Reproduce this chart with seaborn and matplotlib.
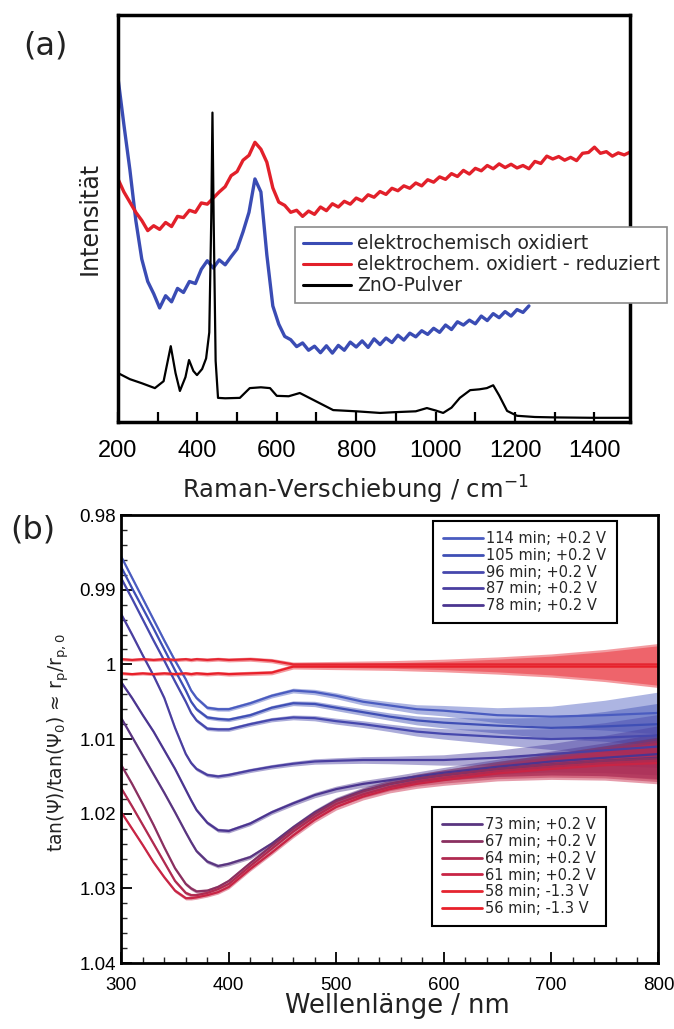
"""
Raman-Spektren (a) und Ellipsometrie-Verhaeltnis (b) -- Nachbau der Abbildung.
"""
import numpy as np
import matplotlib
matplotlib.use("Agg")
import matplotlib.pyplot as plt
from matplotlib.ticker import MultipleLocator, FixedLocator, FixedFormatter
import seaborn as sns


# ─── Daten (a): Raman ───────────────────────────────────────────────────────
ZNO_X = [200, 230, 260, 293, 315, 333, 345, 356, 370, 379,
         390, 399, 412, 422, 430, 435, 438, 441, 446, 452,
         470, 507, 532, 560, 583, 600, 630, 658, 680, 742,
         800, 860, 900, 950, 978, 1000, 1019, 1040, 1061, 1087,
         1110, 1129, 1145, 1160, 1180, 1205, 1250, 1300, 1400, 1490]
ZNO_I = [12.0, 10.5, 9.5, 8.3, 10.0, 18.6, 12.0, 7.6, 11.0, 15.2,
         12.5, 11.5, 13.0, 15.6, 22.0, 50.0, 76.0, 50.0, 15.0, 5.9,
         5.8, 5.9, 8.3, 8.5, 8.3, 6.4, 6.3, 7.1, 6.0, 2.9,
         2.6, 2.2, 2.4, 2.6, 3.4, 2.8, 2.2, 3.5, 5.9, 7.8,
         8.0, 8.3, 9.0, 6.5, 2.7, 1.5, 1.2, 1.1, 1.0, 1.0]

RAMAN_X = [200, 215, 230, 245, 260, 275, 290, 305, 320, 335,
           350, 365, 380, 395, 410, 425, 440, 455, 470, 485,
           500, 515, 530, 545, 560, 575, 590, 605, 620, 635,
           650, 665, 680, 695, 710, 725, 740, 755, 770, 785,
           800, 815, 830, 845, 860, 875, 890, 905, 920, 935,
           950, 965, 980, 995, 1010, 1025, 1040, 1055, 1070, 1085,
           1100, 1115, 1130, 1145, 1160, 1175, 1190, 1205, 1220, 1235,
           1250, 1265, 1280, 1295, 1310, 1325, 1340, 1355, 1370, 1385,
           1400, 1415, 1430, 1445, 1460, 1475, 1490]

# elektrochemisch oxidiert (endet bei ca. 1235 cm-1)
OX_I = [84.6, 73.0, 62.0, 49.5, 40.0, 34.5, 31.5, 28.0, 31.0, 29.5,
        32.8, 31.8, 34.5, 34.0, 37.5, 39.6, 37.8, 39.8, 38.6, 40.6,
        42.5, 46.7, 51.5, 59.7, 56.5, 41.0, 28.5, 24.0, 21.0, 20.2,
        18.5, 19.4, 17.6, 18.6, 17.0, 18.7, 16.9, 18.8, 17.6, 19.6,
        18.4, 19.9, 18.3, 20.4, 19.0, 20.6, 19.5, 21.3, 20.1, 21.8,
        20.9, 22.4, 21.5, 23.0, 22.0, 23.8, 22.7, 24.6, 23.8, 25.0,
        24.1, 26.0, 24.9, 26.6, 25.6, 27.1, 26.0, 27.6, 26.9, 28.5]

# elektrochem. oxidiert - reduziert
RED_I = [59.7, 56.5, 54.0, 51.5, 49.5, 47.0, 48.2, 47.3, 49.0, 48.0,
         50.5, 50.2, 52.0, 51.5, 53.8, 53.5, 55.0, 56.5, 57.8, 60.5,
         61.5, 64.3, 65.5, 68.7, 67.0, 63.8, 57.5, 54.0, 53.2, 51.5,
         52.0, 50.5, 51.8, 51.0, 52.8, 51.9, 53.6, 52.8, 54.2, 53.5,
         55.0, 54.3, 55.8, 55.2, 56.6, 55.9, 57.4, 56.8, 58.0, 57.4,
         58.7, 58.0, 59.5, 58.9, 60.2, 59.6, 61.0, 60.3, 61.8, 60.9,
         62.3, 61.7, 63.0, 62.2, 63.4, 62.5, 63.3, 62.4, 63.0, 62.2,
         64.0, 63.5, 65.3, 64.6, 65.2, 64.3, 65.0, 64.2, 66.0, 66.2,
         67.5, 66.0, 66.4, 65.3, 66.1, 65.6, 66.3]

RAMAN_LABELS = ["elektrochemisch oxidiert",
                "elektrochem. oxidiert - reduziert",
                "ZnO-Pulver"]

# ─── Daten (b): tan(Psi)/tan(Psi0) ──────────────────────────────────────────
WL = [300, 310, 320, 330, 340, 350, 360, 365, 370, 380,
      390, 400, 420, 440, 460, 480, 500, 525, 550, 575,
      600, 650, 700, 750, 800]

R_114 = [0.9856, 0.9884, 0.9912, 0.9940, 0.9968, 0.9995, 1.0020, 1.0035, 1.0045, 1.0058,
         1.0060, 1.0060, 1.0052, 1.0042, 1.0035, 1.0037, 1.0042, 1.0050, 1.0055, 1.0060,
         1.0062, 1.0068, 1.0070, 1.0068, 1.0065]
R_105 = [0.9870, 0.9898, 0.9925, 0.9952, 0.9980, 1.0008, 1.0035, 1.0050, 1.0060, 1.0071,
         1.0073, 1.0074, 1.0068, 1.0058, 1.0052, 1.0053, 1.0058, 1.0064, 1.0070, 1.0075,
         1.0078, 1.0082, 1.0085, 1.0083, 1.0080]
R_96 = [0.9885, 0.9912, 0.9940, 0.9968, 0.9995, 1.0023, 1.0050, 1.0065, 1.0075, 1.0086,
        1.0087, 1.0087, 1.0080, 1.0074, 1.0071, 1.0072, 1.0076, 1.0080, 1.0085, 1.0090,
        1.0093, 1.0097, 1.0100, 1.0098, 1.0095]
R_87 = [0.9933, 0.9960, 0.9988, 1.0015, 1.0045, 1.0085, 1.0120, 1.0132, 1.0140, 1.0148,
        1.0150, 1.0148, 1.0142, 1.0137, 1.0133, 1.0130, 1.0129, 1.0128, 1.0128, 1.0128,
        1.0128, 1.0125, 1.0120, 1.0115, 1.0110]
R_78 = [1.0024, 1.0045, 1.0068, 1.0090, 1.0115, 1.0140, 1.0168, 1.0182, 1.0195, 1.0212,
        1.0222, 1.0223, 1.0213, 1.0198, 1.0186, 1.0175, 1.0167, 1.0160, 1.0155, 1.0150,
        1.0145, 1.0137, 1.0130, 1.0125, 1.0120]
R_73 = [1.0072, 1.0097, 1.0122, 1.0147, 1.0172, 1.0198, 1.0225, 1.0238, 1.0250, 1.0264,
        1.0270, 1.0267, 1.0258, 1.0240, 1.0218, 1.0198, 1.0182, 1.0169, 1.0160, 1.0153,
        1.0148, 1.0140, 1.0134, 1.0129, 1.0125]
R_67 = [1.0135, 1.0160, 1.0187, 1.0215, 1.0245, 1.0273, 1.0294, 1.0300, 1.0304, 1.0303,
        1.0298, 1.0290, 1.0266, 1.0243, 1.0220, 1.0200, 1.0183, 1.0170, 1.0160, 1.0153,
        1.0148, 1.0140, 1.0134, 1.0129, 1.0126]
R_64 = [1.0166, 1.0190, 1.0215, 1.0240, 1.0265, 1.0290, 1.0306, 1.0309, 1.0309, 1.0306,
        1.0301, 1.0294, 1.0270, 1.0247, 1.0224, 1.0204, 1.0187, 1.0174, 1.0164, 1.0157,
        1.0152, 1.0143, 1.0137, 1.0132, 1.0129]
R_61 = [1.0198, 1.0220, 1.0242, 1.0265, 1.0285, 1.0303, 1.0313, 1.0313, 1.0312, 1.0309,
        1.0305, 1.0298, 1.0274, 1.0252, 1.0229, 1.0208, 1.0191, 1.0177, 1.0167, 1.0160,
        1.0155, 1.0146, 1.0140, 1.0135, 1.0132]
R_58 = [0.9993, 0.9994, 0.9993, 0.9994, 0.9993, 0.9994, 0.9993, 0.9994, 0.9993, 0.9994,
        0.9993, 0.9994, 0.9993, 0.9995, 1.0000, 1.0000, 1.0000, 1.0000, 1.0000, 1.0000,
        1.0000, 1.0000, 1.0000, 1.0000, 1.0000]
R_56 = [1.0012, 1.0013, 1.0012, 1.0013, 1.0012, 1.0013, 1.0012, 1.0013, 1.0012, 1.0013,
        1.0012, 1.0013, 1.0012, 1.0011, 1.0003, 1.0003, 1.0003, 1.0003, 1.0003, 1.0003,
        1.0003, 1.0003, 1.0003, 1.0003, 1.0003]

# Rauschband (halbe Breite), aus dem Bild geschaetzt
NOISE_WL = [300, 450, 500, 550, 600, 650, 700, 750, 800]
NOISE_HW = [0.0002, 0.0003, 0.0004, 0.0005, 0.0007, 0.0010, 0.0014, 0.0020, 0.0028]

ELLI_LABELS = ["114 min; +0.2 V", "105 min; +0.2 V", "96 min; +0.2 V",
               "87 min; +0.2 V", "78 min; +0.2 V", "73 min; +0.2 V",
               "67 min; +0.2 V", "64 min; +0.2 V", "61 min; +0.2 V",
               "58 min; -1.3 V", "56 min; -1.3 V"]
ELLI_SERIES = [R_114, R_105, R_96, R_87, R_78, R_73, R_67, R_64, R_61, R_58, R_56]

# ─── Stil ────────────────────────────────────────────────────────────────────
BLUE_A = "#3a4cb4"
RED_A = "#e2202a"
ELLI_COLORS = ["#4a5cc0", "#3f4fb5", "#4648ad", "#4a3fa0", "#4b3590", "#5a3580",
               "#8a3060", "#b02a50", "#c82545", "#e52530", "#e8202a"]
TICK_FONT = ["Liberation Sans", "DejaVu Sans"]

sns.set_style("ticks")
plt.rcParams['font.family'] = ['DejaVu Sans']
plt.rcParams['mathtext.fontset'] = 'dejavusans'

fig = plt.figure(figsize=(6.74, 10.29), dpi=100, facecolor="white")
ax_a = fig.add_axes([0.175, 0.590, 0.760, 0.3955])
ax_b = fig.add_axes([0.180, 0.064, 0.797, 0.4355])

# ─── Panel (a) ───────────────────────────────────────────────────────────────
sns.lineplot(x=RAMAN_X[:len(OX_I)], y=OX_I, ax=ax_a, color=BLUE_A, lw=2.4,
             label=RAMAN_LABELS[0])
sns.lineplot(x=RAMAN_X, y=RED_I, ax=ax_a, color=RED_A, lw=2.4, label=RAMAN_LABELS[1])
sns.lineplot(x=ZNO_X, y=ZNO_I, ax=ax_a, color="black", lw=1.6, label=RAMAN_LABELS[2])

ax_a.set_xlim(200, 1490)
ax_a.set_ylim(0, 100)
ax_a.set_yticks([])
ax_a.xaxis.set_major_locator(MultipleLocator(200))
ax_a.xaxis.set_minor_locator(MultipleLocator(100))
ax_a.tick_params(axis="x", which="both", direction="in", length=7, width=1.6,
                 labelsize=17, pad=13, colors="black")
for lab in ax_a.get_xticklabels():
    lab.set_family(TICK_FONT)
for sp in ax_a.spines.values():
    sp.set_linewidth(2.5)
    sp.set_color("black")
ax_a.set_xlabel("")
ax_a.set_ylabel("")

leg_a = ax_a.legend(loc="upper left", bbox_to_anchor=(0.4377, 0.7794),
                    bbox_transform=fig.transFigure, borderaxespad=0,
                    fontsize=13.5, handlelength=2.6, handletextpad=0.3,
                    labelspacing=0.1, frameon=True, fancybox=False,
                    borderpad=0.4)
leg_a.get_frame().set_edgecolor("#8a8a8a")
leg_a.get_frame().set_linewidth(1.2)
leg_a.get_frame().set_alpha(1.0)
for line in leg_a.get_lines():
    line.set_linewidth(2.2)

fig.text(0.1335, 0.788, "Intensität", rotation=90, ha="center", va="center",
         fontsize=17, color="#222222")
fig.text(0.527, 0.524, "Raman-Verschiebung / cm$^{-1}$", ha="center", va="center",
         fontsize=17.5, color="#222222")
fig.text(0.067, 0.955, "(a)", ha="center", va="center", fontsize=23, color="#222222")

# ─── Panel (b) ───────────────────────────────────────────────────────────────
hw = np.interp(WL, NOISE_WL, NOISE_HW)
for vals, col, lab in zip(ELLI_SERIES, ELLI_COLORS, ELLI_LABELS):
    vals = np.asarray(vals)
    ax_b.fill_between(WL, vals - hw, vals + hw, color=col, alpha=0.45, lw=0)
    sns.lineplot(x=WL, y=vals, ax=ax_b, color=col, lw=1.6, label=lab,
                 sort=False, estimator=None)

ax_b.set_xlim(300, 800)
ax_b.set_ylim(1.04, 0.98)
ax_b.xaxis.set_major_locator(MultipleLocator(100))
ax_b.xaxis.set_minor_locator(MultipleLocator(20))
ax_b.yaxis.set_major_locator(FixedLocator([0.98, 0.99, 1.0, 1.01, 1.02, 1.03, 1.04]))
ax_b.yaxis.set_major_formatter(FixedFormatter(["0.98", "0.99", "1", "1.01", "1.02", "1.03", "1.04"]))
ax_b.yaxis.set_minor_locator(MultipleLocator(0.002))
ax_b.tick_params(axis="both", which="major", direction="in", length=8, width=1.3,
                 labelsize=13.5, colors="black")
ax_b.tick_params(axis="both", which="minor", direction="in", length=4.5, width=1.0)
ax_b.tick_params(axis="x", pad=10)
ax_b.tick_params(axis="y", pad=4)
for lab in ax_b.get_xticklabels() + ax_b.get_yticklabels():
    lab.set_family(TICK_FONT)
for sp in ax_b.spines.values():
    sp.set_linewidth(2.0)
    sp.set_color("black")
ax_b.set_xlabel("")
ax_b.set_ylabel("")

fig.text(0.589, 0.022, "Wellenlänge / nm", ha="center", va="center",
         fontsize=18.5, color="#222222")
fig.text(0.086, 0.278,
         r"tan($\Psi$)/tan($\Psi_\mathrm{0}$) ≈ r$_\mathrm{p}$/r$_\mathrm{p,0}$",
         rotation=90, ha="center", va="center", fontsize=13.5, color="#222222")
fig.text(0.048, 0.485, "(b)", ha="center", va="center", fontsize=23, color="#222222")

handles, labels = ax_b.get_legend_handles_labels()
leg_kw = dict(loc="upper left", bbox_transform=fig.transFigure, borderaxespad=0,
              fontsize=10.5, handlelength=2.7, handletextpad=0.25,
              labelspacing=0.12, fancybox=False, borderpad=0.7)
leg_b1 = ax_b.legend(handles[:5], labels[:5], bbox_to_anchor=(0.6424, 0.4937), **leg_kw)
ax_b.add_artist(leg_b1)
leg_b2 = ax_b.legend(handles[5:], labels[5:], bbox_to_anchor=(0.6410, 0.2157), **leg_kw)
for leg in (leg_b1, leg_b2):
    leg.get_frame().set_edgecolor("black")
    leg.get_frame().set_linewidth(1.5)
    leg.get_frame().set_alpha(1.0)
    for line in leg.get_lines():
        line.set_linewidth(2.0)

fig.savefig("out.png", dpi=100, facecolor="white")
plt.close(fig)
